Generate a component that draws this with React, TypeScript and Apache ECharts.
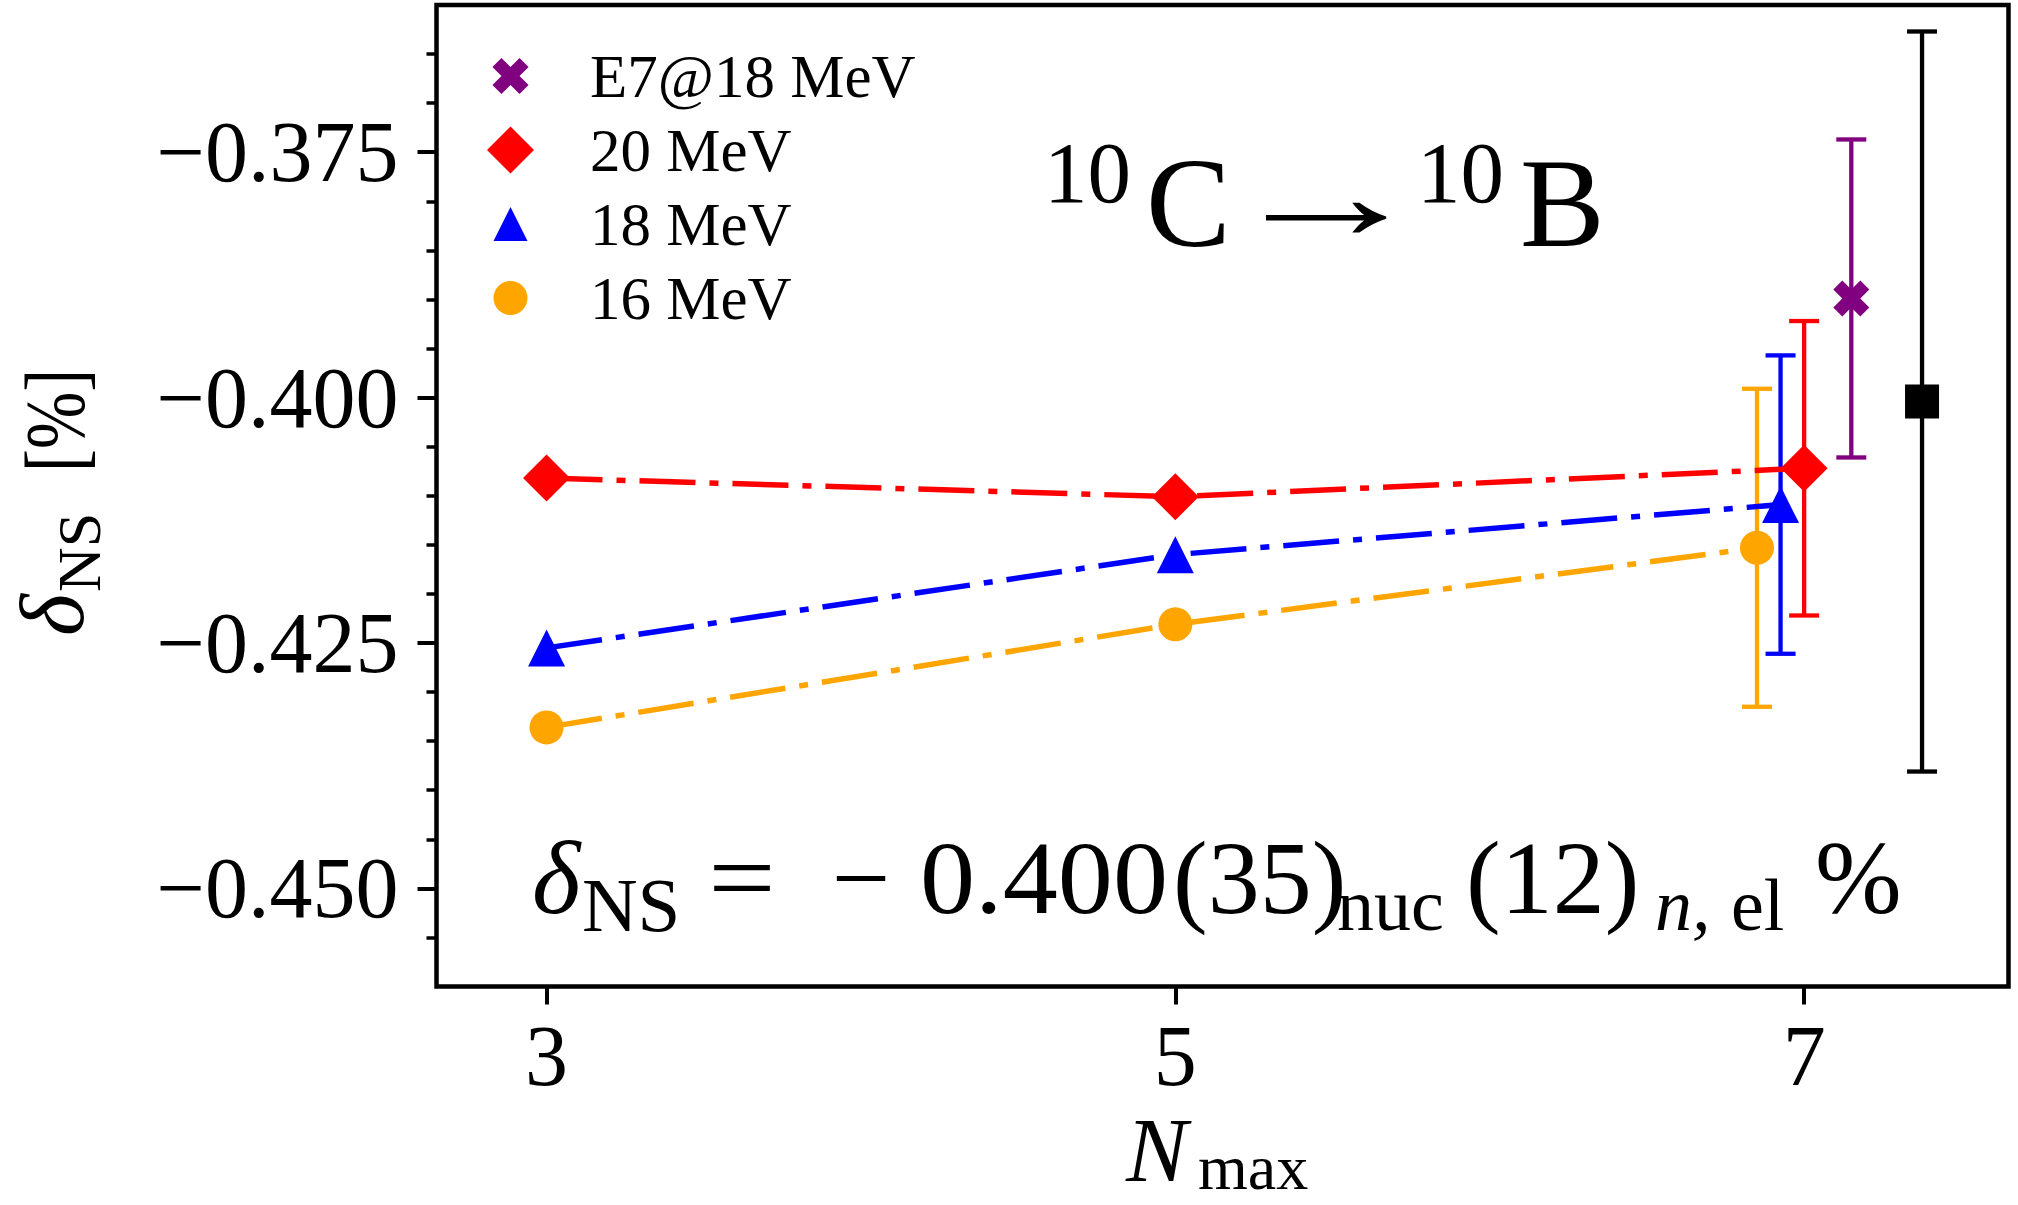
import React, { useEffect, useRef } from 'react';
import * as echarts from 'echarts';

const FONT = "'Liberation Serif', 'DejaVu Serif', 'Times New Roman', serif";

// ---- data ----
const legendNames = ['E7@18 MeV', '20 MeV', '18 MeV', '16 MeV'];

const nmaxRed = [3, 5, 7];
const deltaRed = [-0.4082, -0.4101, -0.4072];
const errRed = [0, 0, 0.015];

const nmaxBlue = [3, 5, 6.925];
const deltaBlue = [-0.4255, -0.416, -0.4109];
const errBlue = [0, 0, 0.0152];

const nmaxOrange = [3, 5, 6.85];
const deltaOrange = [-0.4336, -0.4231, -0.4153];
const errOrange = [0, 0, 0.0162];

const nmaxE7 = [7.15];
const deltaE7 = [-0.3899];
const errE7 = [0.0162];

const nmaxFinal = [7.375];
const deltaFinal = [-0.4004];
const errFinal = [0.0377];

const xTicks = [3, 5, 7];
const yMajorTicks = [-0.45, -0.425, -0.4, -0.375];
const yMinorTicks = [
  -0.455, -0.445, -0.44, -0.435, -0.43, -0.42, -0.415, -0.41, -0.405,
  -0.395, -0.39, -0.385, -0.38, -0.37, -0.365,
];

// ---- symbols ----
const X_PATH = 'path://M60 0L80 20L60 40L80 60L60 80L40 60L20 80L0 60L20 40L0 20L20 0L40 20Z';
const LEG_X = 'path://M-12 -12M92 92M60 0L80 20L60 40L80 60L60 80L40 60L20 80L0 60L20 40L0 20L20 0L40 20Z';
const LEG_D = 'path://M50 0L100 50L50 100L0 50Z';
const LEG_T = 'path://M-19 -19M119 119M50 0L100 100L0 100Z';
const LEG_C = 'path://M-19 -19M119 119M0 50A50 50 0 1 1 100 50A50 50 0 1 1 0 50Z';

const pairs = (xs: number[], ys: number[]) => xs.map((x, i) => [x, ys[i]]);
const errRows = (xs: number[], ys: number[], es: number[]) =>
  xs.map((x, i) => [x, ys[i] - es[i], ys[i] + es[i]]).filter((_, i) => es[i] > 0);

const errSeries = (data: number[][], color: string) => ({
  type: 'custom',
  coordinateSystem: 'cartesian2d',
  z: 2,
  silent: true,
  encode: { x: 0, y: [1, 2] },
  data,
  renderItem: (params: any, api: any) => {
    const x = api.value(0);
    const lo = api.coord([x, api.value(1)]);
    const hi = api.coord([x, api.value(2)]);
    const hw = 15;
    const style = { stroke: color, lineWidth: 4.3, fill: 'none' };
    return {
      type: 'group',
      children: [
        { type: 'line', shape: { x1: lo[0], y1: lo[1], x2: hi[0], y2: hi[1] }, style },
        { type: 'line', shape: { x1: lo[0] - hw, y1: lo[1], x2: lo[0] + hw, y2: lo[1] }, style },
        { type: 'line', shape: { x1: hi[0] - hw, y1: hi[1], x2: hi[0] + hw, y2: hi[1] }, style },
      ],
    };
  },
});

const DASH = [56, 14, 9, 14];

// text helper: x = left (or center), baseline in px
const T = (text: string, x: number, baseline: number, size: number, opt: any = {}) => ({
  type: 'text',
  x,
  y: baseline - 0.3375 * size,
  silent: true,
  scaleX: opt.scaleX ?? 1,
  style: {
    text,
    fontSize: size,
    fontFamily: opt.family || FONT,
    fontStyle: opt.italic ? 'italic' : 'normal',
    fill: '#000',
    align: opt.align || 'left',
    textAlign: opt.align || 'left',
    verticalAlign: 'middle',
    textVerticalAlign: 'middle',
  },
});

const yFmt = (v: number) => (v < 0 ? '\u2212' : '') + Math.abs(v).toFixed(3);

const option: any = {
  animation: false,
  backgroundColor: '#fff',
  grid: {
    show: true,
    left: 436.5,
    top: 5,
    width: 1572,
    height: 981.5,
    borderColor: '#000',
    borderWidth: 4.5,
    backgroundColor: 'transparent',
  },
  xAxis: {
    type: 'value',
    min: 2.65,
    max: 7.65,
    axisLine: { show: false, onZero: false },
    splitLine: { show: false },
    axisTick: { show: true, length: 18, lineStyle: { width: 4, color: '#000' }, customValues: xTicks },
    axisLabel: {
      customValues: xTicks,
      formatter: (v: number) => String(v),
      fontSize: 86,
      fontFamily: FONT,
      color: '#000',
      margin: 26,
    },
  },
  yAxis: [
    {
      type: 'value',
      min: -0.46,
      max: -0.36,
      axisLine: { show: false, onZero: false },
      splitLine: { show: false },
      axisTick: { show: true, length: 19, lineStyle: { width: 4, color: '#000' }, customValues: yMajorTicks },
      axisLabel: {
        customValues: yMajorTicks,
        formatter: yFmt,
        fontSize: 86,
        fontFamily: FONT,
        color: '#000',
        margin: 38,
        padding: [8, 0, 0, 0],
      },
    },
    {
      type: 'value',
      min: -0.46,
      max: -0.36,
      position: 'left',
      axisLine: { show: false, onZero: false },
      splitLine: { show: false },
      axisLabel: { show: false },
      axisTick: { show: true, length: 10, lineStyle: { width: 3.5, color: '#000' }, customValues: yMinorTicks },
    },
  ],
  legend: {
    orient: 'vertical',
    left: 487,
    top: 42,
    padding: 0,
    itemWidth: 149,
    itemHeight: 47,
    itemGap: 6,
    selectedMode: false,
    itemStyle: { borderWidth: 0, opacity: 1 },
    textStyle: { fontSize: 61, fontFamily: FONT, color: '#000', lineHeight: 60, padding: [0, 0, 8, 0] },
    data: [
      { name: legendNames[0], icon: LEG_X },
      { name: legendNames[1], icon: LEG_D },
      { name: legendNames[2], icon: LEG_T },
      { name: legendNames[3], icon: LEG_C },
    ],
  },
  graphic: [
    // title 10C -> 10B
    T('10', 1044, 202, 87),
    T('C', 1146, 246, 127),
    T('\u2192', 1326, 239, 127, { align: 'center', scaleX: 1.6 }),
    T('10', 1417, 202, 87),
    T('B', 1520, 246, 127),
    // annotation
    T('\u03b4', 532, 913, 104, { italic: true }),
    T('NS', 582, 931, 77),
    T('=', 742, 913, 104, { align: 'center', scaleX: 1.15 }),
    T('\u2212', 861, 913, 104, { align: 'center' }),
    T('0.400', 920, 913, 104, { scaleX: 1.06 }),
    T('(35)', 1173, 913, 104),
    T('nuc', 1337, 930, 74),
    T('(12)', 1466, 913, 104),
    T('n,', 1655, 930, 74, { italic: true }),
    T('el', 1731, 930, 74),
    T('%', 1815, 913, 104),
    // x-axis name
    T('N', 1126, 1181, 92, { italic: true }),
    T('max', 1198, 1189, 64),
    // y-axis name (rotated, reads bottom to top)
    {
      type: 'group',
      x: 0,
      y: 632,
      rotation: Math.PI / 2,
      silent: true,
      children: [
        T('\u03b4', -4, 83, 90, { italic: true }),
        T('NS', 40, 100, 62),
        T('[%]', 160, 84, 84, { scaleX: 0.82 }),
      ],
    },
  ],
  series: [
    errSeries(errRows(nmaxOrange, deltaOrange, errOrange), '#ffa500'),
    errSeries(errRows(nmaxBlue, deltaBlue, errBlue), '#0000ff'),
    errSeries(errRows(nmaxRed, deltaRed, errRed), '#ff0000'),
    errSeries(errRows(nmaxE7, deltaE7, errE7), '#800080'),
    errSeries(errRows(nmaxFinal, deltaFinal, errFinal), '#000000'),
    {
      name: legendNames[3],
      type: 'line',
      z: 3,
      data: pairs(nmaxOrange, deltaOrange),
      symbol: 'circle',
      symbolSize: 34,
      itemStyle: { color: '#ffa500', borderWidth: 0, opacity: 1 },
      lineStyle: { color: '#ffa500', width: 5.5, type: DASH },
      silent: true,
    },
    {
      name: legendNames[2],
      type: 'line',
      z: 3,
      data: pairs(nmaxBlue, deltaBlue),
      symbol: 'triangle',
      symbolSize: 37,
      itemStyle: { color: '#0000ff', borderWidth: 0, opacity: 1 },
      lineStyle: { color: '#0000ff', width: 5.5, type: DASH },
      silent: true,
    },
    {
      name: legendNames[1],
      type: 'line',
      z: 3,
      data: pairs(nmaxRed, deltaRed),
      symbol: 'diamond',
      symbolSize: 47,
      itemStyle: { color: '#ff0000', borderWidth: 0, opacity: 1 },
      lineStyle: { color: '#ff0000', width: 5.5, type: DASH },
      silent: true,
    },
    {
      name: legendNames[0],
      type: 'scatter',
      z: 3,
      data: pairs(nmaxE7, deltaE7),
      symbol: X_PATH,
      symbolSize: 36,
      itemStyle: { color: '#800080', borderWidth: 0, opacity: 1 },
      silent: true,
    },
    {
      name: 'final',
      type: 'scatter',
      z: 3,
      data: pairs(nmaxFinal, deltaFinal),
      symbol: 'rect',
      symbolSize: 34,
      itemStyle: { color: '#000000', borderWidth: 0, opacity: 1 },
      silent: true,
    },
  ],
};

export default function App() {
  const ref = useRef<HTMLDivElement>(null);
  useEffect(() => {
    const chart = echarts.init(ref.current as HTMLDivElement, null, { renderer: 'svg' });
    chart.setOption(option);
    return () => chart.dispose();
  }, []);
  return (
    <div
      ref={ref}
      style={{ position: 'fixed', left: 0, top: 0, width: 2018, height: 1205, background: '#fff' }}
    />
  );
}
